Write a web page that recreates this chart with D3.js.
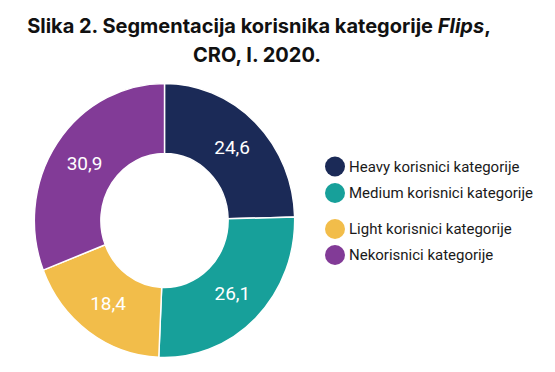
<!DOCTYPE html>
<html>
<head>
<meta charset="utf-8">
<script src="https://cdn.jsdelivr.net/npm/d3@7"></script>
<style>
  body { margin: 0; background: #fff; }
  .title { font-family: Inter, Lato, sans-serif; font-weight: 700; font-size: 20px; fill: #111; }
  .legend { font-family: Roboto, sans-serif; font-size: 15px; fill: #1a1a1a; }
  .value { font-family: Roboto, sans-serif; font-size: 19px; fill: #fff; }
</style>
</head>
<body>
<svg id="chart"></svg>
<script>
// segments
var categories = ["Heavy korisnici kategorije", "Medium korisnici kategorije", "Light korisnici kategorije", "Nekorisnici kategorije"]
var values = [24.6, 26.1, 18.4, 30.9]
var colors = ["#1b2a57", "#17a09a", "#f2bd4a", "#823b97"]

var width = 555, height = 372

var svg = d3.select("#chart")
    .attr("width", width)
    .attr("height", height)

// Title
var title = svg.append("text")
    .attr("class", "title")
    .attr("text-anchor", "middle")
    .attr("x", 259)
    .attr("y", 33)
title.append("tspan").text("Slika 2. Segmentacija korisnika kategorije ")
title.append("tspan").style("font-style", "italic").text("Flips")
title.append("tspan").text(",")

svg.append("text")
    .attr("class", "title")
    .attr("text-anchor", "middle")
    .attr("x", 257)
    .attr("y", 62)
    .text("CRO, I. 2020.")

// Donut (the picture is a bit squeezed horizontally)
var cx = 164.5, cy = 220.5
var outerR = 137, innerR = 67
var sx = 0.95

var pie = d3.pie().sort(null).value(function(d) { return d })
var arc = d3.arc().innerRadius(innerR).outerRadius(outerR)

var g = svg.append("g")
    .attr("transform", `translate(${cx},${cy})`)

var arcs = pie(values)

g.append("g")
    .attr("transform", `scale(${sx},1)`)
    .selectAll("path")
    .data(arcs)
    .enter()
    .append("path")
    .attr("d", arc)
    .attr("fill", function(d, i) { return colors[i] })
    .attr("stroke", "#fff")
    .attr("stroke-width", 1.5)

g.selectAll("text")
    .data(arcs)
    .enter()
    .append("text")
    .attr("class", "value")
    .attr("text-anchor", "middle")
    .attr("dy", "0.35em")
    .attr("transform", function(d) {
        var c = arc.centroid(d)
        return "translate(" + (c[0] * sx) + "," + c[1] + ")"
    })
    .text(function(d) { return d3.format(".1f")(d.data).replace(".", ",") })

// Legend
var legendY = [166.5, 193, 229, 255]

var legend = svg.append("g")
    .selectAll("g")
    .data(categories)
    .enter()
    .append("g")
    .attr("transform", function(d, i) { return `translate(335,${legendY[i]})` })

legend.append("circle")
    .attr("r", 10)
    .attr("fill", function(d, i) { return colors[i] })

legend.append("text")
    .attr("class", "legend")
    .attr("x", 14)
    .attr("dy", "0.35em")
    .text(function(d) { return d })
</script>
</body>
</html>
